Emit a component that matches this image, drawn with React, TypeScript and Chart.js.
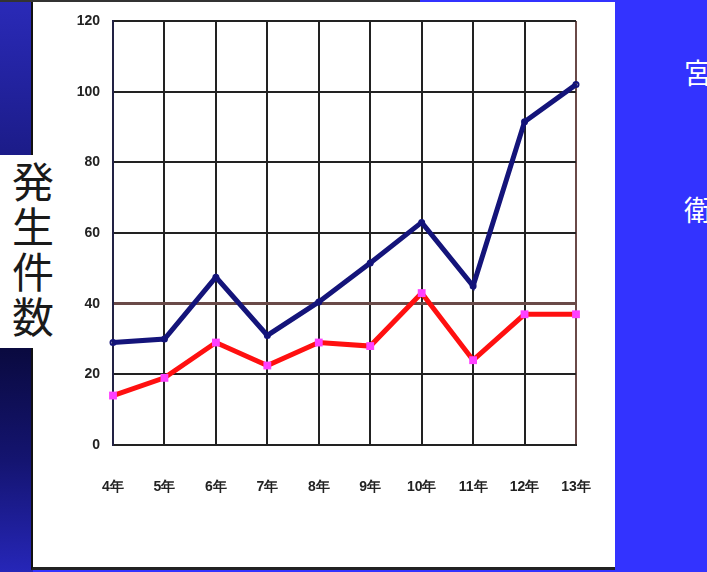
import React, { useEffect, useRef } from "react";
import { Chart, registerables } from "chart.js";

Chart.register(...registerables);

const categories = ["4年", "5年", "6年", "7年", "8年", "9年", "10年", "11年", "12年", "13年"];
const seriesBlue = [29, 30, 47.5, 31, 40.5, 51.5, 63, 45, 91.5, 102];
const seriesRed = [14, 19, 29, 22.5, 29, 28, 43, 24, 37, 37];
const yTicks = [0, 20, 40, 60, 80, 100, 120];
const yLabel = ["発", "生", "件", "数"];
const sideText = ["宮", "衛"];

const tickFont = {
  family: "'Liberation Sans Narrow', 'Arial Narrow', 'Liberation Sans', Arial, sans-serif",
  size: 14,
  weight: "bold" as const,
};

export default function App() {
  const ref = useRef<HTMLCanvasElement | null>(null);

  useEffect(() => {
    if (!ref.current) return;
    const chart = new Chart(ref.current, {
      type: "line",
      data: {
        labels: categories,
        datasets: [
          {
            data: seriesBlue,
            borderColor: "#14147a",
            borderWidth: 5,
            pointRadius: 1,
            pointBackgroundColor: "#14147a",
            pointBorderColor: "#14147a",
            tension: 0,
          },
          {
            data: seriesRed,
            borderColor: "#ff1010",
            borderWidth: 5,
            pointRadius: 2,
            pointStyle: "rect",
            pointBackgroundColor: "#ff40ff",
            pointBorderColor: "#ff40ff",
            tension: 0,
          },
        ],
      },
      options: {
        animation: false,
        responsive: false,
        maintainAspectRatio: false,
        layout: { padding: { left: 0, right: 39, top: 21, bottom: 0 } },
        plugins: { legend: { display: false }, tooltip: { enabled: false } },
        scales: {
          x: {
            type: "category",
            offset: false,
            afterFit: (s: any) => {
              s.height = 123;
              s.paddingLeft = 0;
              s.paddingRight = 0;
            },
            grid: {
              drawTicks: false,
              color: (ctx: any) => (ctx.index === categories.length - 1 ? "#6a4a48" : "#222222"),
              lineWidth: 2,
            },
            border: { display: true, color: "#222222", width: 2 },
            ticks: { font: tickFont, color: "#222222", padding: 34, maxRotation: 0, autoSkip: false },
          },
          y: {
            min: 0,
            max: 120,
            afterFit: (s: any) => {
              s.width = 80;
              s.paddingTop = 0;
              s.paddingBottom = 0;
            },
            afterBuildTicks: (s: any) => {
              s.ticks = yTicks.map((v) => ({ value: v }));
            },
            grid: {
              drawTicks: false,
              color: (ctx: any) => (ctx.tick && ctx.tick.value === 40 ? "#6a4a48" : "#222222"),
              lineWidth: (ctx: any) => (ctx.tick && ctx.tick.value === 40 ? 3 : 2),
            },
            border: { display: true, color: "#222244", width: 2 },
            ticks: { font: tickFont, color: "#222222", padding: 13 },
          },
        },
      },
    });
    return () => chart.destroy();
  }, []);

  return (
    <div
      style={{
        position: "fixed",
        left: 0,
        top: 0,
        width: 707,
        height: 572,
        overflow: "hidden",
        background: "#3333ff",
      }}
    >
      <div
        style={{
          position: "absolute",
          left: 0,
          top: 0,
          width: 33,
          height: 572,
          background:
            "linear-gradient(to bottom, #2a2ab8 0px, #1c1c8a 150px, #0a0a40 350px, #141470 460px, #2626b8 572px)",
        }}
      />
      <div
        style={{
          position: "absolute",
          left: 0,
          top: 0,
          width: 420,
          height: 2,
          background: "#333",
        }}
      />
      <div
        style={{
          position: "absolute",
          left: 31,
          top: 2,
          width: 584,
          height: 568,
          background: "#ffffff",
          borderLeft: "2px solid #111",
          borderBottom: "3px solid #222",
          boxSizing: "border-box",
        }}
      />
      <div
        style={{
          position: "absolute",
          left: 0,
          top: 155,
          width: 60,
          height: 193,
          background: "#ffffff",
        }}
      />
      <div
        style={{
          position: "absolute",
          left: 10,
          top: 157,
          width: 46,
          fontFamily: "'Noto Sans CJK JP', sans-serif",
          fontSize: 42,
          lineHeight: "45px",
          color: "#1a1a1a",
          textAlign: "center",
        }}
      >
        {yLabel.map((c, i) => (
          <div key={i}>{c}</div>
        ))}
      </div>
      {sideText.map((t, i) => (
        <div
          key={i}
          style={{
            position: "absolute",
            left: 684,
            top: i === 0 ? 55 : 192,
            fontFamily: "'Noto Sans CJK JP', sans-serif",
            fontSize: 28,
            lineHeight: "34px",
            color: "#ffffff",
          }}
        >
          {t}
        </div>
      ))}
      <canvas
        ref={ref}
        width={582}
        height={568}
        style={{ position: "absolute", left: 33, top: 0, width: 582, height: 568 }}
      />
    </div>
  );
}
